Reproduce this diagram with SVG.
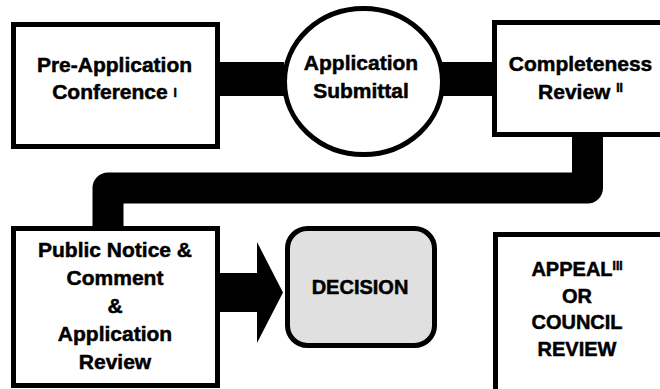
<svg xmlns="http://www.w3.org/2000/svg" width="660" height="389" viewBox="0 0 660 389">
<style>
.box{fill:#fff;stroke:#000;stroke-width:5}
.dec{fill:#e0e0e0;stroke:#000;stroke-width:5}
.t{font-family:"Liberation Sans",Arial,sans-serif;font-weight:bold;font-size:21px;fill:#000;stroke:#000;stroke-width:0.5;text-anchor:middle}
.c{font-size:20px}
.sup{font-size:12px}
</style>
<rect width="660" height="389" fill="#fff"/>
<g id="connectors">
<rect x="218" y="62" width="66" height="34" fill="#000"/>
<rect x="442" y="62" width="52" height="34" fill="#000"/>
<path d="M587.5 134 V188 H108 V230" fill="none" stroke="#000" stroke-width="31" stroke-linejoin="round"/>
<polygon points="218,273 257,273 257,242 283,292.5 257,343 257,312 218,312" fill="#000"/>
</g>
<g id="pre-application">
<rect class="box" x="13.5" y="24.5" width="204" height="122"/>
<text class="t" x="114.5" y="72">Pre-Application</text>
<text class="t" x="114.5" y="99">Conference <tspan class="sup" dy="-2">I</tspan></text>
</g>
<g id="application-submittal">
<ellipse class="box" cx="363.5" cy="81.5" rx="79" ry="73"/>
<text class="t" x="361" y="70">Application</text>
<text class="t" x="361" y="98">Submittal</text>
</g>
<g id="completeness-review">
<rect class="box" x="494.5" y="22.5" width="200" height="112"/>
<text class="t" x="580.5" y="71">Completeness</text>
<text class="t" x="580.5" y="99">Review <tspan class="sup" dy="-7">II</tspan></text>
</g>
<g id="public-notice">
<rect class="box" x="13.5" y="228.5" width="204" height="157"/>
<text class="t" x="115" y="257">Public Notice &amp;</text>
<text class="t" x="115" y="285">Comment</text>
<text class="t" x="115" y="313">&amp;</text>
<text class="t" x="115" y="341">Application</text>
<text class="t" x="115" y="369">Review</text>
</g>
<g id="decision">
<rect class="dec" x="287.5" y="228.5" width="147" height="117" rx="20"/>
<text class="t c" x="360" y="294">DECISION</text>
</g>
<g id="appeal">
<rect class="box" x="495.5" y="234.5" width="200" height="200"/>
<text class="t c" x="577" y="276">APPEAL<tspan class="sup" dy="-6">III</tspan></text>
<text class="t c" x="577" y="303">OR</text>
<text class="t c" x="577" y="329">COUNCIL</text>
<text class="t c" x="577" y="356">REVIEW</text>
</g>
</svg>
